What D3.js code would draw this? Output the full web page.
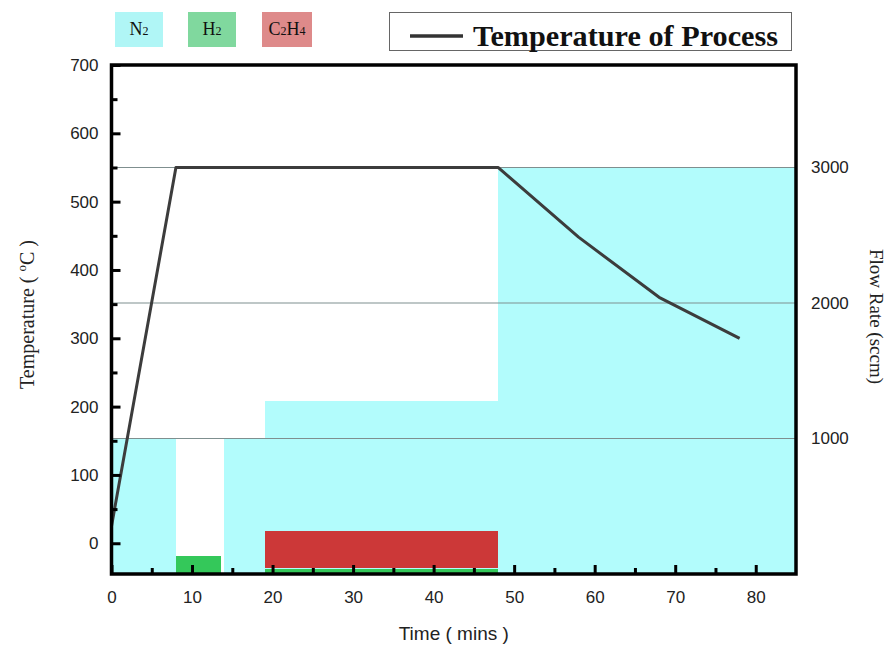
<!DOCTYPE html>
<html><head><meta charset="utf-8">
<script src="https://cdn.jsdelivr.net/npm/d3@7"></script>
<style>body{margin:0;background:#fff}svg{display:block}</style>
</head><body>
<svg id="c" width="890" height="645"></svg>
<script>
// ---- data ----
const tempTime  = [0, 8, 48, 58, 68, 78];
const tempValue = [25, 550, 550, 448, 360, 300];

const n2Start = [0, 14, 19, 48];
const n2End   = [8, 19, 48, 85];
const n2Flow  = [1000, 1000, 1280, 3000];

const h2Start = [8, 19];
const h2End   = [13.6, 48];
const h2Flow  = [130, 40];

const c2h4Start = [19];
const c2h4End   = [48];
const c2h4Base  = [40];
const c2h4Flow  = [280];

const xTicks = [0, 10, 20, 30, 40, 50, 60, 70, 80];
const xMinor = [5, 15, 25, 35, 45, 55, 65, 75];
const yTicks = [0, 100, 200, 300, 400, 500, 600, 700];
const yMinor = [50, 150, 250, 350, 450, 550, 650];
const flowTicks = [1000, 2000, 3000];

const legendNames = ["N", "H", "C"];

// ---- layout ----
const svg = d3.select("#c");
const L = 111.5, R = 796, T = 65, B = 574;
const x = d3.scaleLinear().domain([0, 85]).range([L, R]);
const y = d3.scaleLinear().domain([-45, 700]).range([B, T]);
const yF = d3.scaleLinear().domain([0, 3000]).range([B, y(550)]);

const cyan = "#b2fcfc", green = "#34c85a", red = "#cc3838";

// N2 areas
svg.append("g").attr("shape-rendering", "crispEdges").selectAll("rect").data(n2Start).join("rect")
  .attr("x", (d,i) => x(d)).attr("width", (d,i) => x(n2End[i]) - x(d) + 0.5)
  .attr("y", (d,i) => yF(n2Flow[i])).attr("height", (d,i) => B - yF(n2Flow[i]))
  .attr("fill", cyan);

// H2 bars
svg.append("g").attr("shape-rendering", "crispEdges").selectAll("rect").data(h2Start).join("rect")
  .attr("x", (d,i) => x(d)).attr("width", (d,i) => x(h2End[i]) - x(d))
  .attr("y", (d,i) => yF(h2Flow[i])).attr("height", (d,i) => B - yF(h2Flow[i]))
  .attr("fill", green);

// C2H4 bars
svg.append("g").attr("shape-rendering", "crispEdges").selectAll("rect").data(c2h4Start).join("rect")
  .attr("x", (d,i) => x(d)).attr("width", (d,i) => x(c2h4End[i]) - x(d))
  .attr("y", (d,i) => yF(c2h4Base[i] + c2h4Flow[i]))
  .attr("height", (d,i) => yF(c2h4Base[i]) - yF(c2h4Base[i] + c2h4Flow[i]) - 1)
  .attr("fill", red);

// gridlines at flow ticks
svg.append("g").selectAll("line").data(flowTicks).join("line")
  .attr("x1", L).attr("x2", R).attr("y1", d => yF(d)).attr("y2", d => yF(d))
  .attr("stroke", "#7f8f8f").attr("stroke-width", 1.2);

// temperature line
svg.append("path").datum(tempTime.map((t,i) => [t, tempValue[i]]))
  .attr("d", d3.line().x(d => x(d[0])).y(d => y(d[1])))
  .attr("fill", "none").attr("stroke", "#3c3c3c").attr("stroke-width", 3)
  .attr("stroke-linejoin", "round");

// axes
const font = "'Liberation Sans', Arial, sans-serif";
const serif = "'Liberation Serif', 'Times New Roman', serif";

const xAxis = svg.append("g").attr("transform", `translate(0,${B})`)
  .call(d3.axisBottom(x).tickValues(xTicks).tickSize(-9).tickPadding(17).tickFormat(d3.format("d")));
const xAxisMinor = svg.append("g").attr("transform", `translate(0,${B})`)
  .call(d3.axisBottom(x).tickValues(xMinor).tickSize(-6).tickFormat(""));
const yAxis = svg.append("g").attr("transform", `translate(${L},0)`)
  .call(d3.axisLeft(y).tickValues(yTicks).tickSize(-9).tickPadding(13).tickFormat(d3.format("d")));
const yAxisMinor = svg.append("g").attr("transform", `translate(${L},0)`)
  .call(d3.axisLeft(y).tickValues(yMinor).tickSize(-6).tickFormat(""));
const yAxisR = svg.append("g").attr("transform", `translate(${R},0)`)
  .call(d3.axisRight(yF).tickValues(flowTicks).tickSize(0).tickPadding(15).tickFormat(d3.format("d")));

[xAxis, xAxisMinor, yAxis, yAxisMinor, yAxisR].forEach(g => {
  g.select(".domain").remove();
  g.selectAll(".tick line").attr("stroke", "#000").attr("stroke-width", 3);
  g.selectAll("text").attr("font-family", font).attr("font-size", 17).attr("fill", "#222");
});

// frame
svg.append("rect").attr("x", L).attr("y", T).attr("width", R - L).attr("height", B - T)
  .attr("fill", "none").attr("stroke", "#000").attr("stroke-width", 3.5);

// axis titles
svg.append("text").attr("x", (L + R) / 2 + 0).attr("y", 640)
  .attr("text-anchor", "middle").attr("font-family", font).attr("font-size", 19).attr("fill", "#222")
  .text("Time ( mins )");

const yt = svg.append("text").attr("transform", `translate(34,${(T + B) / 2 - 5}) rotate(-90)`)
  .attr("text-anchor", "middle").attr("font-family", serif).attr("font-size", 20).attr("fill", "#222");
yt.append("tspan").text("Temperature ( ");
yt.append("tspan").attr("font-size", 13).attr("dy", -8).text("o");
yt.append("tspan").attr("dy", 8).text("C )");

svg.append("text").attr("transform", `translate(870,${(T + B) / 2 - 3}) rotate(90)`)
  .attr("text-anchor", "middle").attr("font-family", serif).attr("font-size", 19).attr("fill", "#222")
  .text("Flow Rate (sccm)");

// gas legend
const legColors = ["#b0f6f6", "#80d89e", "#de8a8a"];
const legX = [115, 188, 262];
const legW = [48, 48, 50];
const leg = svg.append("g");
legendNames.forEach((n, i) => {
  leg.append("rect").attr("x", legX[i]).attr("y", 12).attr("width", legW[i]).attr("height", 35).attr("fill", legColors[i]);
  const t = leg.append("text").attr("x", legX[i] + legW[i] / 2).attr("y", 35)
    .attr("text-anchor", "middle").attr("font-family", serif).attr("font-size", 18).attr("fill", "#111");
  if (i === 0) { t.append("tspan").text("N"); t.append("tspan").attr("font-size", 12).text("2"); }
  if (i === 1) { t.append("tspan").text("H"); t.append("tspan").attr("font-size", 12).text("2"); }
  if (i === 2) {
    t.append("tspan").text("C"); t.append("tspan").attr("font-size", 12).text("2");
    t.append("tspan").text("H"); t.append("tspan").attr("font-size", 12).text("4");
  }
});

// temperature legend
svg.append("rect").attr("x", 389.5).attr("y", 12.5).attr("width", 402).attr("height", 38)
  .attr("fill", "#fff").attr("stroke", "#666").attr("stroke-width", 1);
svg.append("line").attr("x1", 410).attr("x2", 463).attr("y1", 36).attr("y2", 36)
  .attr("stroke", "#333").attr("stroke-width", 3.5);
svg.append("text").attr("x", 473).attr("y", 46).attr("font-family", serif).attr("font-weight", "bold")
  .attr("font-size", 29).attr("fill", "#111")
  .attr("textLength", 305).attr("lengthAdjust", "spacingAndGlyphs")
  .text("Temperature of Process");
</script>
</body></html>
